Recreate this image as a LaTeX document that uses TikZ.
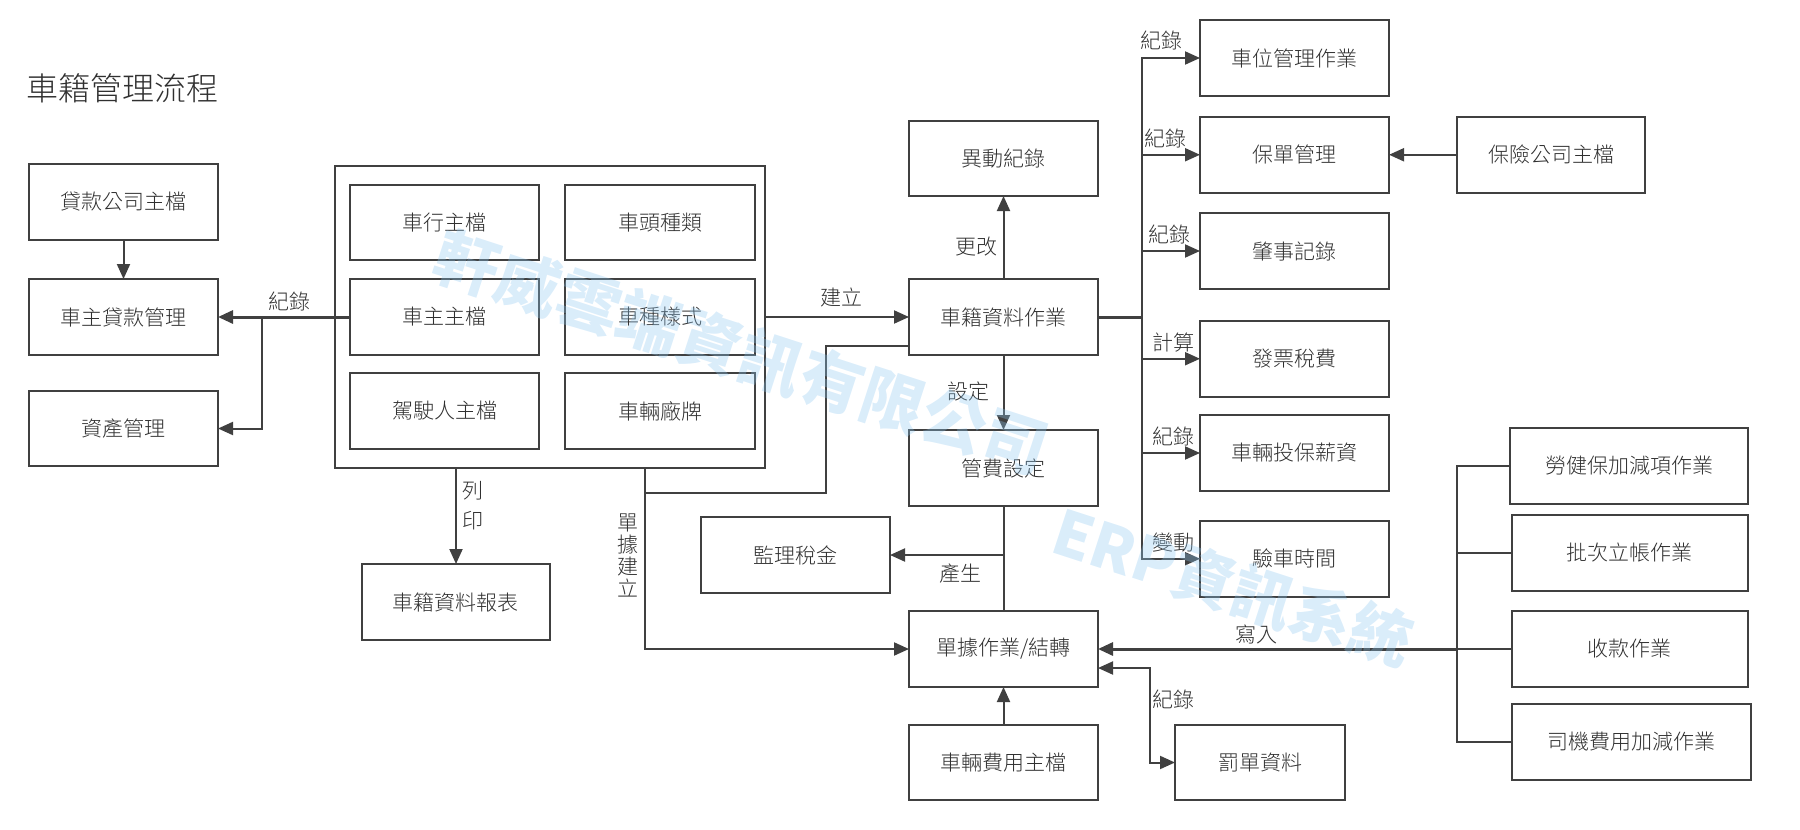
\documentclass[tikz,border=0pt]{standalone}
\usepackage{fontspec}
\setmainfont[UprightFont=* Light,BoldFont=* Bold]{Noto Sans CJK TC}
\newfontfamily\wmfont[UprightFont=* Black]{Noto Sans CJK TC}
\usetikzlibrary{arrows.meta}
\definecolor{ink}{HTML}{404040}
\definecolor{txt}{HTML}{303030}
\definecolor{wm}{HTML}{8CC6F0}
\tikzset{
  bx/.style={draw=ink,line width=2pt,inner sep=0pt,outer sep=0pt,text=txt,font=\fontsize{21}{24}\selectfont},
  lbl/.style={inner sep=0pt,text=txt,font=\fontsize{21}{24}\selectfont},
  ln/.style={draw=ink,line width=2pt},
  arr/.style={ln,-{Triangle[length=15pt,width=13pt]}},
  heavy/.style={line width=3pt},
  wmark/.style={inner sep=0pt,text=wm,text opacity=.32,font=\fontsize{64}{64}\selectfont\wmfont}
}
\newcommand{\boxat}[6]{%
  \pgfmathsetmacro{\bw}{#4-#2}\pgfmathsetmacro{\bh}{#5-#3}%
  \pgfmathsetmacro{\bcx}{(#2+#4)/2}\pgfmathsetmacro{\bcy}{(#3+#5)/2}%
  \node[bx,minimum width=\bw pt,minimum height=\bh pt] (#1) at (\bcx,\bcy) {#6};}
\begin{document}
\begin{tikzpicture}[x=1pt,y=-1pt]
\path[use as bounding box] (0,0) rectangle (1800,830);
\node[inner sep=0pt,text=txt,font=\fontsize{32}{34}\selectfont] (title) at (123,88.5) {車籍管理流程};
% left column
\boxat{loanco}{29}{164}{218}{240}{貸款公司主檔}
\boxat{loan}{29}{279}{218}{355}{車主貸款管理}
\boxat{asset}{29}{391}{218}{466}{資產管理}
% master group
\boxat{group}{335}{166}{765}{468}{}
\boxat{m1}{350}{185}{539}{260}{車行主檔}
\boxat{m2}{565}{185}{755}{260}{車頭種類}
\boxat{m3}{350}{279}{539}{355}{車主主檔}
\boxat{m4}{565}{279}{755}{355}{車種樣式}
\boxat{m5}{350}{373}{539}{449}{駕駛人主檔}
\boxat{m6}{565}{373}{755}{449}{車輛廠牌}
\boxat{report}{361.5}{564}{550}{640}{車籍資料報表}
% centre
\boxat{change}{909}{120.5}{1098}{196}{異動紀錄}
\boxat{vehicle}{909}{279}{1098}{355}{車籍資料作業}
\boxat{fee}{909}{430}{1098}{506}{管費設定}
\boxat{tax}{701}{517}{890}{593}{監理稅金}
\boxat{doc}{909}{611}{1098}{687}{單據作業/結轉}
\boxat{cost}{909}{725}{1098}{800}{車輛費用主檔}
\boxat{fine}{1175}{725}{1345}{800}{罰單資料}
% right column
\boxat{r1}{1200}{20}{1389}{96}{車位管理作業}
\boxat{r2}{1200}{117}{1389}{192.5}{保單管理}
\boxat{r3}{1200}{213}{1389}{289}{肇事記錄}
\boxat{r4}{1200}{321}{1389}{396.5}{發票稅費}
\boxat{r5}{1200}{415}{1389}{491}{車輛投保薪資}
\boxat{r6}{1200}{521}{1389}{596.5}{驗車時間}
\boxat{ins}{1457}{117}{1645}{192.5}{保險公司主檔}
% far right
\boxat{w1}{1510}{428}{1748}{504}{勞健保加減項作業}
\boxat{w2}{1511.5}{515}{1748}{591}{批次立帳作業}
\boxat{w3}{1511.5}{611}{1748}{687}{收款作業}
\boxat{w4}{1511.5}{704}{1751}{780}{司機費用加減作業}
% junctions
\coordinate (jl) at (262,317);
\coordinate (jv) at (1141.7,317);
\coordinate (jw) at (1456.7,649);
\coordinate (jg) at (645,468);
\coordinate (jg2) at (645,493);
\coordinate (jg3) at (826,493);
\coordinate (jg4) at (826,345.6);
\coordinate (jg5) at (909,345.6);
\coordinate (jp) at (456,468);
\coordinate (jt) at (1003.5,555);
\coordinate (jf) at (1150,668);
\coordinate (jf2) at (1098,668);
% connectors
\draw[arr] (loanco) -- (loan);
\draw[arr,heavy] (m3.west) -- (loan.east);
\draw[arr] (jl) |- (asset.east);
\draw[arr] (group.east |- jl) -- (vehicle.west);
\draw[arr] (jp) -- (jp |- report.north);
\draw[arr] (jg) |- (doc.west);
\draw[ln] (jg2) -- (jg3) -- (jg4) -- (jg5);
\draw[arr] (vehicle) -- (change);
\draw[arr] (vehicle) -- (fee);
\draw[ln] (fee) -- (doc);
\draw[arr] (jt) -- (tax.east |- jt);
\draw[arr] (cost) -- (doc);
\draw[ln,heavy] (vehicle.east) -- (jv);
\draw[arr] (jv) |- (r1.west);
\draw[arr] (jv) |- (r2.west);
\draw[arr] (jv) |- (r3.west);
\draw[arr] (jv) |- (r4.west);
\draw[arr] (jv) |- (r5.west);
\draw[arr] (jv) |- (r6.west);
\draw[arr] (ins) -- (r2);
\draw[ln] (w1.west) -| (jw);
\draw[ln] (w2.west) -| (jw);
\draw[ln] (w4.west) -| (jw);
\draw[ln] (w3.west) -- (jw);
\draw[arr,heavy] (jw) -- (doc.east);
\draw[{Triangle[length=15pt,width=13pt]}-{Triangle[length=15pt,width=13pt]},ln] (jf2) -| (jf |- fine.west) -- (fine.west);
% labels
\node[lbl] (l1) at (289,302) {紀錄};
\node[lbl] (l2) at (841.5,297) {建立};
\node[lbl] (l3) at (976,247) {更改};
\node[lbl] (l4) at (968,392) {設定};
\node[lbl] (l5) at (960.5,574) {產生};
\node[lbl] (l6) at (1161.5,41) {紀錄};
\node[lbl] (l7) at (1165,138.5) {紀錄};
\node[lbl] (l8) at (1169,235) {紀錄};
\node[lbl] (l9) at (1173,343) {計算};
\node[lbl] (l10) at (1173,437) {紀錄};
\node[lbl] (l11) at (1173,543) {變動};
\node[lbl] (l12) at (1256,634) {寫入};
\node[lbl] (l13) at (1173,700) {紀錄};
\node[inner sep=0pt,text=txt,align=center,font=\fontsize{21}{30}\selectfont] (l14) at (473,506) {列\\印};
\node[inner sep=0pt,text=txt,align=center,font=\fontsize{21}{22}\selectfont] (l15) at (628,555) {單\\據\\建\\立};
% watermarks
\node[wmark,rotate=-18] (wm1) at (741,352.5) {軒威雲端資訊有限公司};
\node[wmark,rotate=-18] (wm2) at (1233,587) {\fontsize{62}{62}\selectfont ERP資訊系統};
\end{tikzpicture}
\end{document}
